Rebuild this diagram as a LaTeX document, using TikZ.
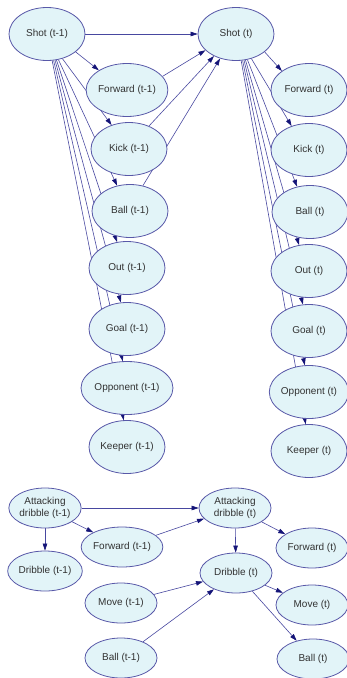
\documentclass[tikz,border=0pt]{standalone}
\usepackage{fontspec}
\setmainfont{Liberation Sans}
\usetikzlibrary{shapes.geometric,arrows.meta,backgrounds}
\definecolor{nodefill}{RGB}{226,244,248}
\definecolor{nodeline}{RGB}{88,88,168}
\definecolor{edgeline}{RGB}{72,72,160}
\definecolor{tipcol}{RGB}{20,20,120}
\definecolor{textcol}{RGB}{50,50,50}
\tikzset{
  var/.style={ellipse, draw=nodeline, fill=nodefill, line width=0.8pt,
    inner sep=0pt, text=textcol, align=center,
    font=\fontsize{10}{12.3}\selectfont},
  bigvar/.style={var, minimum width=76pt, minimum height=53pt},
  smallvar/.style={var, minimum width=72pt, minimum height=40pt},
  link/.style={draw=edgeline, line width=0.6pt,
    -{Triangle[length=7pt,width=4.5pt,color=tipcol]}}
}
\begin{document}
\begin{tikzpicture}[x=1pt,y=-1pt]
\useasboundingbox (0,0) rectangle (347,678);

% Shot network, time slice t-1
\node[bigvar] (shotA) at (47,34) {Shot (t-1)};
\node[bigvar] (fwdA)  at (127,90) {Forward (t-1)};
\node[bigvar] (kickA) at (129,149) {Kick (t-1)};
\node[bigvar] (ballA) at (130,211) {Ball (t-1)};
\node[bigvar] (outA)  at (127,268) {Out (t-1)};
\node[bigvar] (goalA) at (127,329) {Goal (t-1)};
\node[bigvar] (oppA)  at (127,388) {Opponent (t-1)};
\node[bigvar] (keepA) at (127,447) {Keeper (t-1)};

% Shot network, time slice t
\node[bigvar] (shotB) at (236,34) {Shot (t)};
\node[bigvar] (fwdB)  at (309,90) {Forward (t)};
\node[bigvar] (kickB) at (309,150) {Kick (t)};
\node[bigvar] (ballB) at (310,212) {Ball (t)};
\node[bigvar] (outB)  at (309,271) {Out (t)};
\node[bigvar] (goalB) at (309,331) {Goal (t)};
\node[bigvar] (oppB)  at (309,392) {Opponent (t)};
\node[bigvar] (keepB) at (309,451) {Keeper (t)};

% Attacking dribble network
\node[smallvar] (attA)  at (45,508)  {Attacking\\dribble (t-1)};
\node[smallvar] (attB)  at (235,508) {Attacking\\dribble (t)};
\node[smallvar] (fwdC)  at (122,547) {Forward (t-1)};
\node[smallvar] (dribA) at (45,571)  {Dribble (t-1)};
\node[smallvar] (fwdD)  at (312,548) {Forward (t)};
\node[smallvar] (dribB) at (236,573) {Dribble (t)};
\node[smallvar] (moveA) at (121,603) {Move (t-1)};
\node[smallvar] (moveB) at (312,605) {Move (t)};
\node[smallvar] (ballC) at (121,658) {Ball (t-1)};
\node[smallvar] (ballD) at (313,659) {Ball (t)};

\begin{scope}[on background layer]
  % shot network edges
  \foreach \s/\f/\k/\b/\o/\g/\p/\q in {shotA/fwdA/kickA/ballA/outA/goalA/oppA/keepA,
                                     shotB/fwdB/kickB/ballB/outB/goalB/oppB/keepB}{
    \draw[link] (\s.-32) -- (\f.145);
    \draw[link] (\s.-58) -- (\k.126);
    \draw[link] (\s.-66) -- (\b.117);
    \draw[link] (\s.-70) -- (\o.111);
    \draw[link] (\s.-73) -- (\g.103);
    \draw[link] (\s.-76) -- (\p.99);
    \draw[link] (\s.-79) -- (\q.97);
  }
  \draw[link] (shotA) -- (shotB);
  \draw[link] (fwdA.21) -- (shotB.-152);
  \draw[link] (kickA.49) -- (shotB.-135);
  \draw[link] (ballA.63) -- (shotB.-123);

  % attacking dribble edges
  \draw[link] (attA) -- (attB);
  \draw[link] (attA) -- (fwdC);
  \draw[link] (attA) -- (dribA);
  \draw[link] (fwdC) -- (attB);
  \draw[link] (attB) -- (dribB);
  \draw[link] (attB) -- (fwdD);
  \draw[link] (moveA) -- (dribB);
  \draw[link] (ballC) -- (dribB);
  \draw[link] (dribB) -- (moveB);
  \draw[link] (dribB) -- (ballD);
\end{scope}
\end{tikzpicture}
\end{document}
